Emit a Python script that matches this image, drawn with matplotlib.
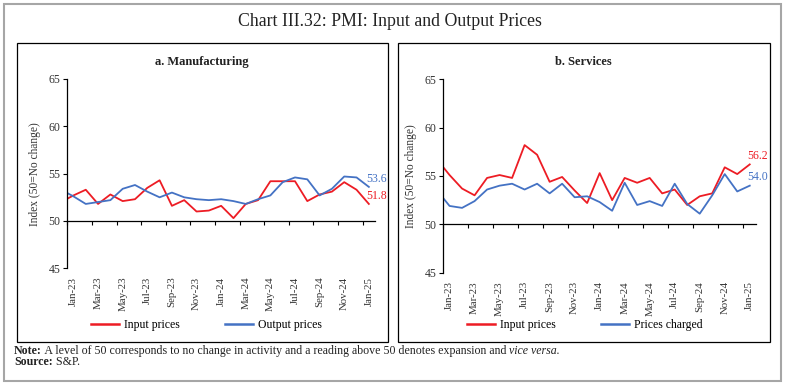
import numpy as np
import matplotlib
matplotlib.use("Agg")
import matplotlib.pyplot as plt
from matplotlib.patches import Rectangle
from matplotlib.lines import Line2D

plt.rcParams['font.family'] = ['Liberation Serif', 'DejaVu Serif']

# monthly values Dec-22 .. Jan-25 (Dec-22 lies left of the y axis and gets clipped)
mfg_input = [52.0, 52.7, 53.3, 51.8, 52.8, 52.1, 52.3, 53.5, 54.3, 51.6, 52.2, 51.0, 51.1,
             51.6, 50.3, 51.8, 52.2, 54.2, 54.2, 54.2, 52.1, 52.8, 53.1, 54.1, 53.3, 51.8]
mfg_output = [53.3, 52.6, 51.8, 52.0, 52.2, 53.4, 53.8, 53.1, 52.5, 53.0, 52.5, 52.3, 52.2,
              52.3, 52.1, 51.8, 52.3, 52.7, 54.1, 54.6, 54.4, 52.7, 53.4, 54.7, 54.6, 53.6]
svc_input = [56.7, 55.1, 53.7, 53.0, 54.8, 55.1, 54.8, 58.2, 57.2, 54.4, 54.9, 53.5, 52.2,
             55.3, 52.5, 54.8, 54.3, 54.8, 53.2, 53.6, 52.0, 52.9, 53.2, 55.9, 55.2, 56.2]
svc_charged = [53.5, 51.9, 51.7, 52.4, 53.6, 54.0, 54.2, 53.6, 54.2, 53.2, 54.2, 52.8, 52.9,
               52.3, 51.4, 54.3, 52.0, 52.4, 51.9, 54.2, 52.1, 51.1, 53.0, 55.2, 53.4, 54.0]
month_labels = ['Jan-23', 'Mar-23', 'May-23', 'Jul-23', 'Sep-23', 'Nov-23', 'Jan-24',
                'Mar-24', 'May-24', 'Jul-24', 'Sep-24', 'Nov-24', 'Jan-25']

RED = '#ed1c24'
BLUE = '#4472c4'
W, H = 785, 384


def fx(x):
    return x / W


def fy(y):
    return 1 - y / H


fig = plt.figure(figsize=(W / 100, H / 100), dpi=100)


def draw_panel(left, right, top, bottom, s1, s2, names):
    ax = fig.add_axes([fx(left), fy(bottom), fx(right) - fx(left), fy(top) - fy(bottom)])
    x = np.arange(len(s1)) - 1
    ax.plot(x, s1, color=RED, lw=1.3)
    ax.plot(x, s2, color=BLUE, lw=1.3)
    ax.set_xlim(-0.5, 24.5)
    ax.set_ylim(45, 65)
    ax.set_yticks([45, 50, 55, 60, 65])
    ax.spines['top'].set_visible(False)
    ax.spines['right'].set_visible(False)
    ax.spines['bottom'].set_position(('data', 50))
    ax.spines['left'].set_linewidth(0.9)
    ax.spines['bottom'].set_linewidth(0.9)
    ax.set_xticks(np.arange(-0.5, 24, 2))
    ax.tick_params(axis='x', direction='out', length=3, width=0.8, labelbottom=False)
    ax.tick_params(axis='y', direction='out', length=3, width=0.8, labelsize=8.5,
                   labelcolor='#333333', pad=2)
    for k, lab in enumerate(month_labels):
        ax.annotate(lab, xy=(2 * k, 0), xycoords=('data', 'axes fraction'),
                    xytext=(0, -6), textcoords='offset points', rotation=90,
                    ha='center', va='top', fontsize=7.8, color='#333333')
    ax.set_ylabel('Index (50=No change)', fontsize=8.3, color='#333333', labelpad=5)
    # end-of-series labels
    ax.annotate(f'{s1[-1]:.1f}', xy=(24, s1[-1]), xytext=(-2, 6), textcoords='offset points',
                color=RED, fontsize=8.5, ha='left', va='center', annotation_clip=False)
    ax.annotate(f'{s2[-1]:.1f}', xy=(24, s2[-1]), xytext=(-2, 6), textcoords='offset points',
                color=BLUE, fontsize=8.5, ha='left', va='center', annotation_clip=False)
    handles = [Line2D([], [], color=RED, lw=1.8), Line2D([], [], color=BLUE, lw=1.8)]
    fig.legend(handles, names, loc='center',
               bbox_to_anchor=(fx((left + right) / 2 - 15), fy(325)), ncol=2, frameon=False,
               fontsize=8.5, handlelength=2.4, handletextpad=0.4, columnspacing=3.8)
    return ax


draw_panel(67.3, 375, 79, 268.3, mfg_input, mfg_output, ['Input prices', 'Output prices'])
draw_panel(443.3, 756, 79.4, 272.6, svc_input, svc_charged, ['Input prices', 'Prices charged'])

# panel boxes and outer frame
for x0, x1 in [(17, 388), (398, 770)]:
    fig.add_artist(Rectangle((fx(x0), fy(342)), fx(x1) - fx(x0), fy(43) - fy(342),
                             transform=fig.transFigure, fill=False, lw=0.9, ec='black'))
fig.add_artist(Rectangle((fx(4), fy(381)), fx(781) - fx(4), fy(4) - fy(381),
                         transform=fig.transFigure, fill=False, lw=1.5, ec='#a6a6a6'))

fig.text(fx(390), fy(22), 'Chart III.32: PMI: Input and Output Prices', ha='center',
         va='center', fontsize=12.8, color='#222222')
fig.text(fx(202), fy(62), 'a. Manufacturing', ha='center', va='center', fontsize=9,
         weight='bold', color='#222222')
fig.text(fx(583), fy(62), 'b. Services', ha='center', va='center', fontsize=9,
         weight='bold', color='#222222')

# note and source lines with mixed styles
renderer = fig.canvas.get_renderer()


def text_run(x, y, parts):
    for s, style in parts:
        kw = {'weight': 'bold'} if style == 'b' else ({'style': 'italic'} if style == 'i' else {})
        t = fig.text(x, y, s, ha='left', va='center', fontsize=8.6, color='#222222', **kw)
        bb = t.get_window_extent(renderer=renderer)
        x = bb.x1 / fig.bbox.width


text_run(fx(14), fy(351), [('Note:', 'b'),
                           (' A level of 50 corresponds to no change in activity and a reading '
                            'above 50 denotes expansion and ', ''),
                           ('vice versa.', 'i')])
text_run(fx(14), fy(362), [('Source:', 'b'), (' S&P.', '')])

fig.savefig('out.png', dpi=100)
